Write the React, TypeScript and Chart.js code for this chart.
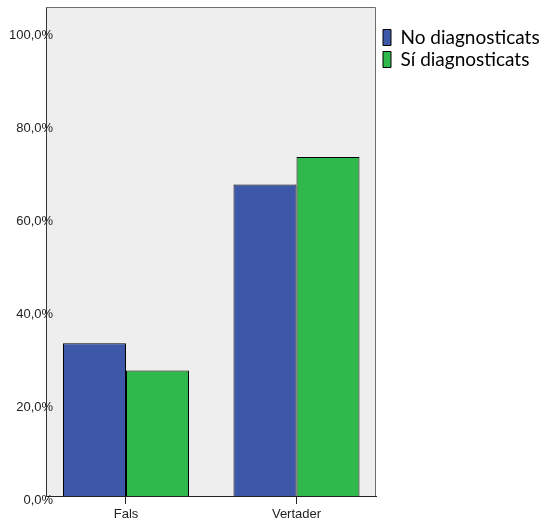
import React, { useEffect, useRef } from 'react';
import { Chart, registerables } from 'chart.js';

Chart.register(...registerables);

const categories = ['Fals', 'Vertader'];
const seriesNames = ['No diagnosticats', 'Sí diagnosticats'];
const noDiagnosticats = [32.9, 67.1];
const siDiagnosticats = [27.0, 73.0];
const yTickValues = [0, 20, 40, 60, 80, 100];
const seriesColors = ['#3e58a9', '#2fb84b'];

const framePlugin = {
  id: 'frame',
  beforeDraw(chart: any) {
    const { ctx, chartArea } = chart;
    const { left, top, right, bottom } = chartArea;
    ctx.save();
    ctx.fillStyle = '#eeeeee';
    ctx.fillRect(left, top, right - left, bottom - top);
    ctx.restore();
  },
  afterDatasetsDraw(chart: any) {
    const { ctx, chartArea } = chart;
    const { left, top, right, bottom } = chartArea;
    ctx.save();
    ctx.strokeStyle = '#6e6e6e';
    ctx.lineWidth = 1;
    ctx.beginPath();
    ctx.moveTo(left, Math.round(top) + 0.5);
    ctx.lineTo(Math.round(right) - 0.5, Math.round(top) + 0.5);
    ctx.lineTo(Math.round(right) - 0.5, bottom);
    ctx.stroke();
    ctx.restore();
  },
};

export default function App() {
  const ref = useRef<HTMLCanvasElement | null>(null);

  useEffect(() => {
    if (!ref.current) return;
    const tickFont = { family: 'Liberation Sans, Arial, sans-serif', size: 13 };
    const chart = new Chart(ref.current, {
      type: 'bar',
      data: {
        datasets: [
          {
            label: seriesNames[0],
            data: noDiagnosticats.map((v, i) => ({ x: i, y: v })),
            backgroundColor: seriesColors[0],
            borderColor: '#000000',
            borderWidth: 1,
            categoryPercentage: 0.739,
            barPercentage: 1,
            xAxisID: 'x',
            yAxisID: 'y',
          },
          {
            label: seriesNames[1],
            data: siDiagnosticats.map((v, i) => ({ x: i, y: v })),
            backgroundColor: seriesColors[1],
            borderColor: '#000000',
            borderWidth: 1,
            categoryPercentage: 0.739,
            barPercentage: 1,
            xAxisID: 'x',
            yAxisID: 'y',
          },
        ],
      },
      options: {
        responsive: false,
        animation: false,
        devicePixelRatio: 1,
        layout: { padding: { top: 7, right: 0, bottom: 0, left: 0 } },
        scales: {
          x: {
            type: 'linear',
            bounds: 'data',
            offset: false,
            min: -0.4692,
            max: 1.4663,
            afterBuildTicks: (s: any) => {
              s.ticks = categories.map((_, i) => ({ value: i }));
            },
            afterFit: (s: any) => {
              s.height = 28;
            },
            grid: {
              display: true,
              offset: false,
              drawOnChartArea: false,
              drawTicks: true,
              tickLength: 8,
              color: '#222222',
            },
            border: { display: true, color: '#222222', width: 1 },
            ticks: {
              autoSkip: false,
              maxRotation: 0,
              padding: 3,
              color: '#222222',
              font: tickFont,
              callback: (v: any) => categories[v as number] ?? '',
            },
          },
          y: {
            type: 'linear',
            position: 'left',
            bounds: 'data',
            min: 0,
            max: 105.3,
            afterBuildTicks: (s: any) => {
              s.ticks = yTickValues.map((v) => ({ value: v }));
            },
            afterFit: (s: any) => {
              s.width = 46;
            },
            grid: { display: false, drawTicks: false },
            border: { display: true, color: '#333333', width: 1 },
            ticks: {
              mirror: true,
              crossAlign: 'far',
              padding: -37,
              labelOffset: 4,
              color: '#222222',
              font: tickFont,
              callback: (v: any) => Number(v).toFixed(1).replace('.', ',') + '%',
            },
          },
          yGap: {
            type: 'linear',
            position: 'right',
            display: true,
            afterFit: (s: any) => {
              s.width = 4;
            },
            grid: { display: false, drawTicks: false },
            border: { display: false },
            ticks: { display: false },
          },
        },
        plugins: {
          tooltip: { enabled: false },
          legend: {
            position: 'right',
            align: 'start',
            maxWidth: 166,
            title: {
              display: true,
              text: '',
              font: { size: 18, lineHeight: 1 },
              padding: 0,
            },
            labels: {
              boxWidth: 8,
              boxHeight: 16,
              padding: 3,
              color: '#000000',
              font: { family: 'Lato, sans-serif', size: 19 },
            },
          },
        },
      },
      plugins: [framePlugin],
    } as any);
    return () => chart.destroy();
  }, []);

  return (
    <div style={{ position: 'absolute', left: 0, top: 0, width: 546, height: 524 }}>
      <canvas ref={ref} width={546} height={524} style={{ display: 'block' }} />
    </div>
  );
}
